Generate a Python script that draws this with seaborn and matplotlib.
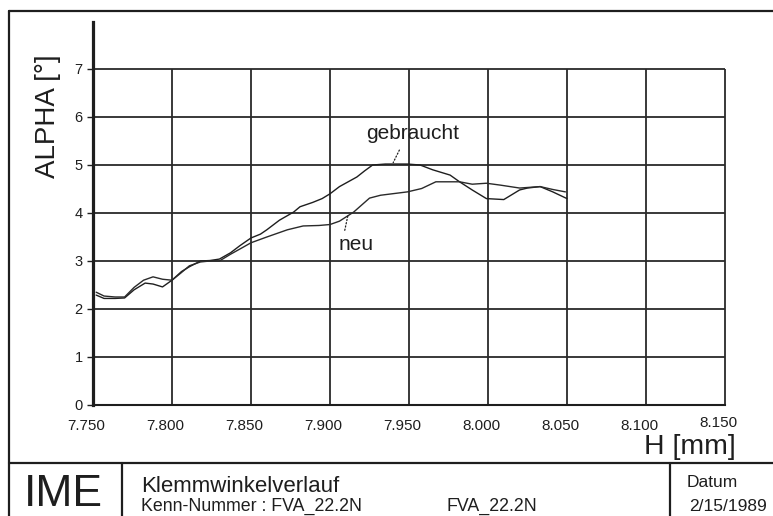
"""Klemmwinkelverlauf: ALPHA over H, neu vs. gebraucht (IME drawing sheet)
"""

import matplotlib

matplotlib.use("Agg")
import matplotlib.pyplot as plt
import matplotlib.transforms as mtransforms
from matplotlib.lines import Line2D
import pandas as pd
import seaborn as sns

# ---- data ----
h_gebraucht = [7.752, 7.757, 7.764, 7.770, 7.776, 7.783, 7.788, 7.794, 7.800,
               7.806, 7.811, 7.818, 7.824, 7.830, 7.837, 7.843, 7.850, 7.856,
               7.860, 7.868, 7.877, 7.881, 7.889, 7.895, 7.900, 7.906, 7.917,
               7.922, 7.927, 7.935, 7.949, 7.957, 7.965, 7.976, 7.982, 7.990,
               7.999, 8.010, 8.020, 8.025, 8.033, 8.041, 8.050]
alpha_gebraucht = [2.29, 2.22, 2.22, 2.23, 2.40, 2.54, 2.52, 2.46, 2.60,
                   2.78, 2.88, 3.00, 3.01, 3.04, 3.17, 3.32, 3.48, 3.56,
                   3.65, 3.85, 4.02, 4.13, 4.22, 4.30, 4.40, 4.55, 4.75,
                   4.88, 5.00, 5.02, 5.02, 5.00, 4.90, 4.79, 4.65, 4.48,
                   4.30, 4.28, 4.48, 4.52, 4.55, 4.44, 4.30]

h_neu = [7.752, 7.757, 7.764, 7.770, 7.776, 7.782, 7.788, 7.794, 7.800,
         7.806, 7.811, 7.818, 7.824, 7.830, 7.837, 7.843, 7.850, 7.860,
         7.873, 7.883, 7.893, 7.900, 7.906, 7.915, 7.925, 7.932, 7.949,
         7.958, 7.967, 7.982, 7.990, 7.999, 8.008, 8.020, 8.033, 8.041,
         8.049]
alpha_neu = [2.35, 2.27, 2.25, 2.25, 2.45, 2.60, 2.67, 2.62, 2.60,
             2.76, 2.90, 2.98, 3.00, 3.00, 3.14, 3.25, 3.38, 3.50,
             3.65, 3.73, 3.74, 3.76, 3.83, 4.02, 4.31, 4.37, 4.44,
             4.51, 4.65, 4.65, 4.60, 4.62, 4.58, 4.52, 4.55, 4.49,
             4.44]

x_ticks = [7.75, 7.80, 7.85, 7.90, 7.95, 8.00, 8.05, 8.10, 8.15]
y_ticks = [0, 1, 2, 3, 4, 5, 6, 7]

title = "Klemmwinkelverlauf"
kenn = "Kenn-Nummer : FVA_22.2N"
kenn_2 = "FVA_22.2N"
datum = "2/15/1989"

# ---- style ----
sns.set_style("white")
plt.rcParams["font.family"] = ["Liberation Sans", "DejaVu Sans"]
ink = "#1e1e1e"

W, H = 773, 516
fig = plt.figure(figsize=(W / 100, H / 100), dpi=100)


def fx(px):
    return px / W


def fy(py):
    return 1 - py / H


# axes box: 7.750 at x=93, 8.150 at x=725, 0 at y=405, 48 px per degree
y_top = (405 - 22) / 48
ax = fig.add_axes([fx(93), fy(405), fx(725) - fx(93), fy(22) - fy(405)])

df = pd.concat(
    [
        pd.DataFrame({"H": h_gebraucht, "ALPHA": alpha_gebraucht, "Zustand": "gebraucht"}),
        pd.DataFrame({"H": h_neu, "ALPHA": alpha_neu, "Zustand": "neu"}),
    ]
)
sns.lineplot(
    data=df, x="H", y="ALPHA", hue="Zustand",
    palette={"gebraucht": ink, "neu": "#2a2a2a"},
    linewidth=1.0, legend=False, ax=ax, estimator=None, sort=True,
)

# grid closed at 7 deg and 8.150 mm
ax.vlines(x_ticks[1:], 0, y_ticks[-1], color="#2a2a2a", linewidth=1.3, clip_on=False, zorder=1)
ax.hlines(y_ticks[1:], x_ticks[0], x_ticks[-1], color="#2a2a2a", linewidth=1.3, clip_on=False, zorder=1)

ax.set_xlim(x_ticks[0], x_ticks[-1])
ax.set_ylim(0, y_top)
ax.set_xticks(x_ticks)
ax.set_xticklabels(["%.3f" % t for t in x_ticks])
ax.set_yticks(y_ticks)
ax.set_yticklabels([str(t) for t in y_ticks])
ax.tick_params(axis="x", length=0, pad=10, labelsize=11, colors=ink)
ax.tick_params(axis="y", length=4, width=1.0, pad=3.5, labelsize=10.5,
               colors=ink, direction="out", left=True)

for side in ("top", "right"):
    ax.spines[side].set_visible(False)
ax.spines["left"].set_linewidth(2.3)
ax.spines["bottom"].set_linewidth(1.5)
ax.spines["left"].set_color(ink)
ax.spines["bottom"].set_color(ink)
ax.set_facecolor("none")

# x tick labels sit a bit left of their grid line, last one a bit higher
for i, lab in enumerate(ax.get_xticklabels()):
    dy = 3 / 100 if i == len(x_ticks) - 1 else 0
    lab.set_transform(lab.get_transform()
                      + mtransforms.ScaledTranslation(-7 / 100, dy, fig.dpi_scale_trans))

ax.set_ylabel("ALPHA [°]", fontsize=20, color=ink)
ax.yaxis.label.set_va("baseline")
ax.yaxis.set_label_coords((55 - 93) / 632, (405 - 116) / 383)
ax.set_xlabel("H [mm]", fontsize=20.5, color=ink)
ax.xaxis.label.set_ha("left")
ax.xaxis.label.set_va("baseline")
ax.xaxis.set_label_coords((644 - 93) / 632, (405 - 454) / 383)

# curve labels with dotted leaders
ax.annotate("gebraucht", xy=(7.940, 5.05), xytext=(7.952, 5.54),
            ha="center", va="baseline", fontsize=15, color=ink,
            arrowprops=dict(arrowstyle="-", linestyle=":", linewidth=0.9,
                            color=ink, relpos=(0.4, 0), shrinkA=3, shrinkB=0))
ax.annotate("neu", xy=(7.9114, 3.96), xytext=(7.9165, 3.23),
            ha="center", va="baseline", fontsize=15, color=ink,
            arrowprops=dict(arrowstyle="-", linestyle=":", linewidth=0.9,
                            color=ink, relpos=(0.15, 1), shrinkA=1, shrinkB=0))

# ---- sheet frame and title block ----
frame = [
    ([8.5, 8.5], [11, H]),
    ([8.5, W], [11, 11]),
    ([8.5, W], [463, 463]),
    ([122, 122], [463, H]),
    ([670, 670], [463, H]),
]
for xs, ys in frame:
    fig.add_artist(Line2D([fx(v) for v in xs], [fy(v) for v in ys],
                          color=ink, linewidth=1.6))

fig.text(fx(24), fy(515), "IME", fontsize=32, ha="left", va="bottom", color=ink)
fig.text(fx(141), fy(492), title, fontsize=16, ha="left", va="baseline", color=ink)
fig.text(fx(141), fy(511), kenn, fontsize=12.8, ha="left", va="baseline", color=ink)
fig.text(fx(446), fy(511), kenn_2, fontsize=12.8, ha="left", va="baseline", color=ink)
fig.text(fx(687), fy(487), "Datum", fontsize=12.5, ha="left", va="baseline", color=ink)
fig.text(fx(689), fy(511), datum, fontsize=12.5, ha="left", va="baseline", color=ink)

fig.savefig("out.png", dpi=100)
